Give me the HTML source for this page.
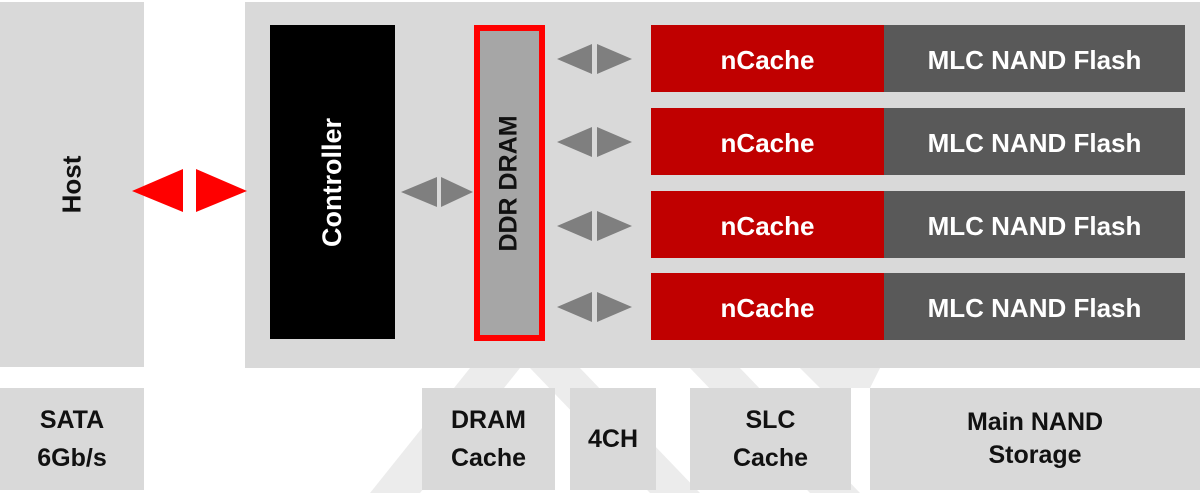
<!DOCTYPE html>
<html><head><meta charset="utf-8"><style>
body{margin:0;width:1200px;height:493px;background:#fff;position:relative;overflow:hidden;font-family:"Liberation Sans",Arial,sans-serif;font-weight:bold}
.b{position:absolute}
.t{display:flex;align-items:center;justify-content:center;text-align:center}
.g{background:#d9d9d9;color:#111;font-size:25px;line-height:32px}
.r{background:#c00000;color:#fff;font-size:26px}
.d{background:#595959;color:#fff;font-size:26px}
.p{padding-top:3px;box-sizing:border-box}
</style></head><body>
<svg class="b" style="left:0;top:0" width="1200" height="493">
<g fill="#ececec">
<polygon points="370,493 420,493 520,368 470,368"/>
<polygon points="530,368 580,368 700,493 650,493"/>
<polygon points="690,368 740,368 860,493 810,493"/>
<polygon points="800,368 880,368 870,388 820,388"/>
</g>
</svg>
<div class="b" style="left:0;top:2px;width:144px;height:365px;background:#d9d9d9"></div>
<div class="b t" style="left:0;top:2px;width:144px;height:365px;font-size:26px;color:#111"><span style="transform:rotate(-90deg);display:inline-block">Host</span></div>
<div class="b" style="left:245px;top:2px;width:955px;height:366px;background:#d9d9d9"></div>
<div class="b t" style="left:270px;top:25px;width:125px;height:314px;background:#000;color:#fff;font-size:27px"><span style="transform:rotate(-90deg);display:inline-block;white-space:nowrap">Controller</span></div>
<div class="b t" style="left:474px;top:25px;width:59px;height:304px;border:6px solid #ff0000;background:#a6a6a6;color:#111;font-size:25px"><span style="transform:rotate(-90deg);display:inline-block;white-space:nowrap">DDR DRAM</span></div>
<svg class="b" style="left:0;top:0" width="1200" height="493">
<polygon points="132,191 183,169 183,212" fill="#ff0000"/>
<polygon points="196,169 247,191 196,212" fill="#ff0000"/>
<g fill="#7f7f7f">
<polygon points="401,192 437,177 437,207"/><polygon points="441,177 473,192 441,207"/>
<polygon points="557,59 592,44 592,74"/><polygon points="597,44 632,59 597,74"/>
<polygon points="557,142 592,127 592,157"/><polygon points="597,127 632,142 597,157"/>
<polygon points="557,226 592,211 592,241"/><polygon points="597,211 632,226 597,241"/>
<polygon points="557,307 592,292 592,322"/><polygon points="597,292 632,307 597,322"/>
</g>
</svg>
<div class="b t r p" style="left:651px;top:25px;width:233px;height:67px">nCache</div>
<div class="b t d p" style="left:884px;top:25px;width:301px;height:67px">MLC NAND Flash</div>
<div class="b t r p" style="left:651px;top:108px;width:233px;height:67px">nCache</div>
<div class="b t d p" style="left:884px;top:108px;width:301px;height:67px">MLC NAND Flash</div>
<div class="b t r p" style="left:651px;top:191px;width:233px;height:67px">nCache</div>
<div class="b t d p" style="left:884px;top:191px;width:301px;height:67px">MLC NAND Flash</div>
<div class="b t r p" style="left:651px;top:273px;width:233px;height:67px">nCache</div>
<div class="b t d p" style="left:884px;top:273px;width:301px;height:67px">MLC NAND Flash</div>
<div class="b t g" style="left:0;top:388px;width:144px;height:102px;line-height:38px">SATA<br>6Gb/s</div>
<div class="b t g" style="left:422px;top:388px;width:133px;height:102px;line-height:38px">DRAM<br>Cache</div>
<div class="b t g" style="left:570px;top:388px;width:86px;height:102px">4CH</div>
<div class="b t g" style="left:690px;top:388px;width:161px;height:102px;line-height:38px">SLC<br>Cache</div>
<div class="b t g" style="left:870px;top:388px;width:330px;height:102px;line-height:33px">Main NAND<br>Storage</div>
</body></html>
